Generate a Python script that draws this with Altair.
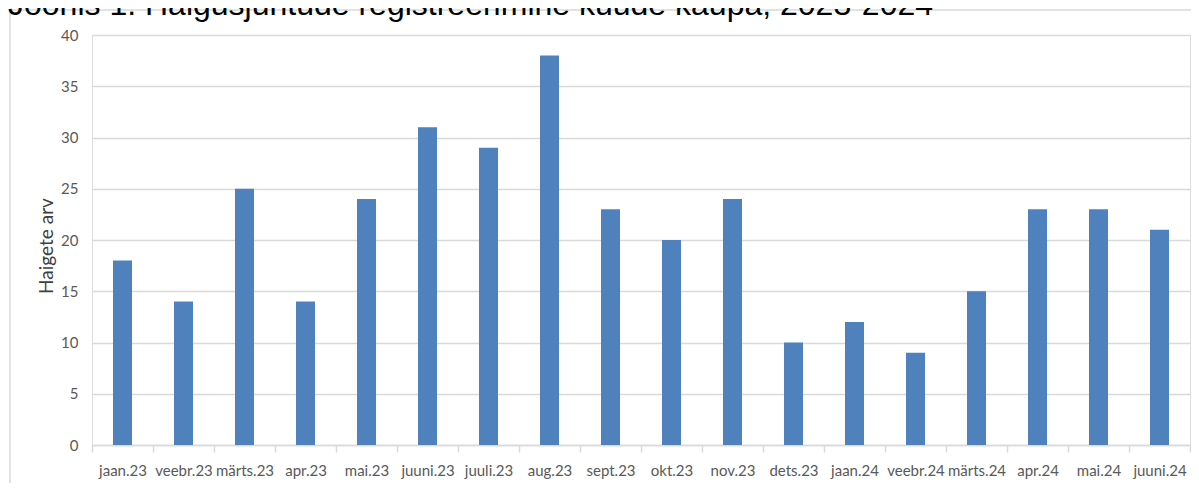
import altair as alt
import pandas as pd

months = ["jaan.23", "veebr.23", "märts.23", "apr.23", "mai.23", "juuni.23", "juuli.23",
          "aug.23", "sept.23", "okt.23", "nov.23", "dets.23", "jaan.24", "veebr.24",
          "märts.24", "apr.24", "mai.24", "juuni.24"]
cases = [18, 14, 25, 14, 24, 31, 29, 38, 23, 20, 24, 10, 12, 9, 15, 23, 23, 21]
y_ticks = [0, 5, 10, 15, 20, 25, 30, 35, 40]
title_text = "Joonis 1. Haigusjuhtude registreerimine kuude kaupa, 2023-2024"
y_title = "Haigete arv"

df = pd.DataFrame({"kuu": months, "arv": cases})

W, H = 1098, 410
GRAY = "#d9d9d9"
LABEL = "#595959"
FONT = "Lato"

bars = alt.Chart(df).mark_bar(size=19, color="#4f81bd").encode(
    x=alt.X("kuu:N", sort=months,
            scale=alt.Scale(paddingInner=0, paddingOuter=0),
            axis=alt.Axis(title=None, labelAngle=0, tickBand="extent", ticks=True,
                          tickSize=7, tickColor=GRAY, tickWidth=1.5,
                          domainColor=GRAY, domainWidth=1.5, labelPadding=11,
                          labelFont=FONT, labelFontSize=15, labelColor=LABEL,
                          grid=False)),
    y=alt.Y("arv:Q", scale=alt.Scale(domain=[0, 40], nice=False),
            axis=alt.Axis(title=None, values=y_ticks, ticks=False, domain=False,
                          grid=True, gridColor=GRAY, gridWidth=1.5,
                          labelFont=FONT, labelFontSize=15, labelColor=LABEL,
                          labelPadding=14)),
)

border = alt.Chart(pd.DataFrame({"a": [0]})).mark_rect(
    fill=None, stroke=GRAY, strokeWidth=1.5
).encode(
    x=alt.value(-82), x2=alt.value(W + 30),
    y=alt.value(-25), y2=alt.value(H + 80),
)

ytitle = alt.Chart(pd.DataFrame({"t": [y_title]})).mark_text(
    font=FONT, fontSize=19, color="#404040", align="center", baseline="middle",
    angle=270
).encode(
    text="t:N", x=alt.value(-45), y=alt.value(211),
)

title = alt.Chart(pd.DataFrame({"t": [title_text]})).mark_text(
    font="Liberation Sans", fontSize=32, color="#000000", align="left",
    baseline="alphabetic"
).encode(
    text="t:N", x=alt.value(-84), y=alt.value(-20),
)

chart = alt.layer(border, bars, ytitle, title).properties(
    width=W, height=H,
    autosize=alt.AutoSizeParams(type="none"),
    padding={"left": 84, "top": 27, "right": 1, "bottom": 38},
).configure_view(stroke=None).configure(background="white")

chart.save("out.html", embed_options={"renderer": "svg", "actions": False})
